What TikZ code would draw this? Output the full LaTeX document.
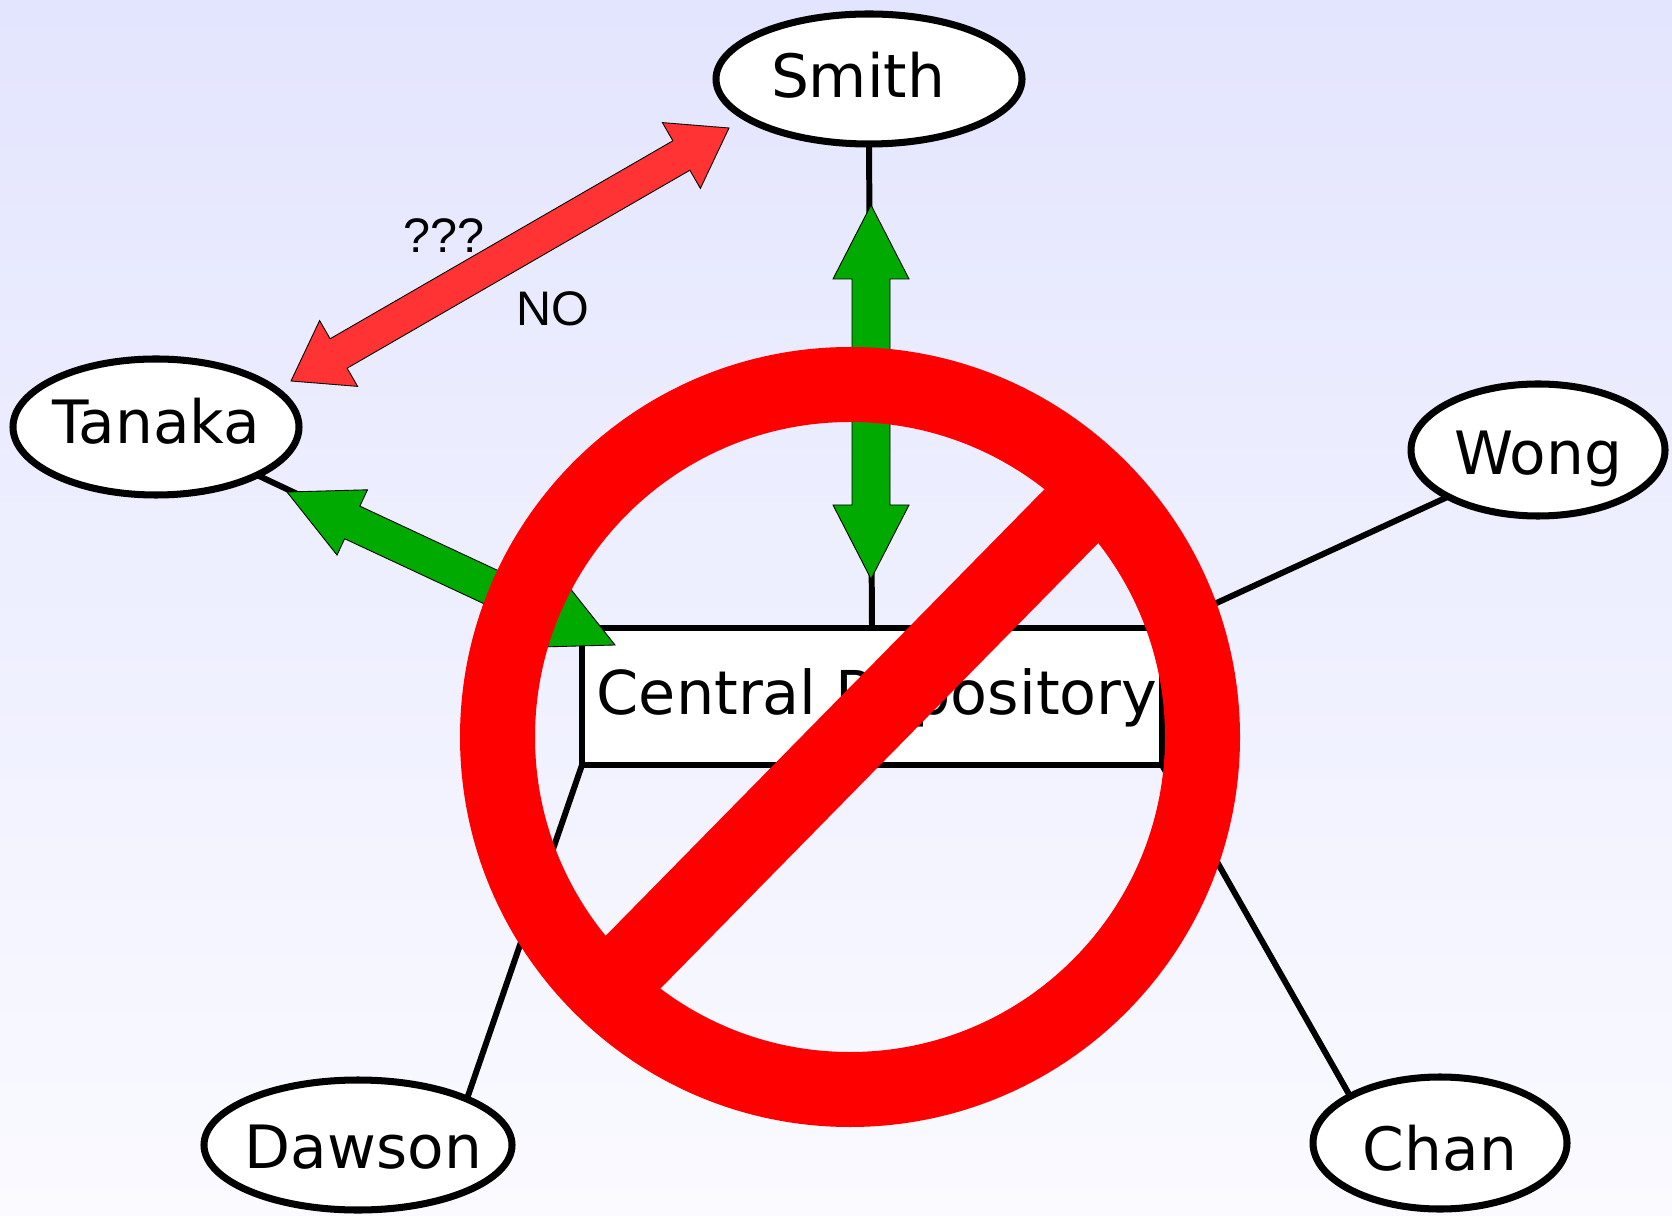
\documentclass[tikz,border=0pt]{standalone}
\usepackage{fontspec}
\setmainfont{DejaVu Sans}
\newfontfamily\notefont{Liberation Sans}
\usetikzlibrary{
		calc,
		shapes.geometric
	}
\definecolor{linkgreen}{HTML}{00AA00}
\definecolor{linkred}{HTML}{FF3333}
\tikzset{
		person/.style={ellipse, draw=black, fill=white, line width=2pt, inner sep=0pt, outer sep=0pt, text height=0pt, text depth=0pt, font=\fontsize{17}{20}\selectfont},
		store/.style={rectangle, draw=black, fill=white, line width=1.8pt, inner sep=0pt, outer sep=0pt, font=\fontsize{17.2}{20}\selectfont},
		wire/.style={draw=black, line width=1.7pt},
		note/.style={anchor=base, font=\notefont\fontsize{13.8}{16}\selectfont},
		greenlink/.style={fill=linkgreen, draw=black, line width=0.25pt},
		redlink/.style={fill=linkred, draw=black, line width=0.25pt}
	}
% text sitting off the middle of its node
\newcommand{\offtext}[3]{\raisebox{#2}[0pt][0pt]{\makebox[0pt]{\hspace*{#1}#3}}}
% double headed block arrow between two tips: style, tip, tip, head length, head half width, shaft half width
\newcommand{\blockarrow}[6]{
	\draw[#1] (#2)
		-- ($(#2)!#4!(#3)!#5!90:(#3)$) -- ($(#2)!#4!(#3)!#6!90:(#3)$)
		-- ($(#3)!#4!(#2)!#6!-90:(#2)$) -- ($(#3)!#4!(#2)!#5!-90:(#2)$)
		-- (#3)
		-- ($(#3)!#4!(#2)!#5!90:(#2)$) -- ($(#3)!#4!(#2)!#6!90:(#2)$)
		-- ($(#2)!#4!(#3)!#6!-90:(#3)$) -- ($(#2)!#4!(#3)!#5!-90:(#3)$)
		-- cycle;
}
\begin{document}
\begin{tikzpicture}
              \useasboundingbox (0,0) rectangle (16.72,12.15);

              % the background
              \shade[top color={rgb,255:red,227;green,229;blue,254}, bottom color={rgb,255:red,250;green,250;blue,255}] (0,0) rectangle (16.72,12.15);

              % the repository and the people
              \node[store, minimum width=5.80cm, minimum height=1.37cm, text height=0pt, text depth=0pt] (repo) at (8.72,5.185) {\offtext{0.10cm}{-0.18cm}{Central Repository}};
              \node[person, minimum width=3.06cm, minimum height=1.30cm] (smith) at (8.69,11.36) {\offtext{-0.22cm}{-0.19cm}{Smith}};
              \node[person, minimum width=2.86cm, minimum height=1.36cm] (tanaka) at (1.56,7.88) {\offtext{0cm}{-0.17cm}{Tanaka}};
              \node[person, minimum width=2.54cm, minimum height=1.32cm] (wong) at (15.38,7.65) {\offtext{0cm}{-0.25cm}{Wong}};
              \node[person, minimum width=3.08cm, minimum height=1.30cm] (dawson) at (3.58,0.70) {\offtext{0.11cm}{-0.23cm}{Dawson}};
              \node[person, minimum width=2.54cm, minimum height=1.32cm] (chan) at (14.40,0.72) {\offtext{0cm}{-0.27cm}{Chan}};

              % draw the lines to the repository
              \draw[wire] (smith.south) -- (repo.north);
              \draw[wire] (tanaka.south east) -- (repo.north west);
              \draw[wire] (wong.south west) -- (repo.north east);
              \draw[wire] (dawson.north east) -- (repo.south west);
              \draw[wire] (chan.north west) -- (repo.south east);

              % the ends of the block arrows
              \coordinate (redleft) at (2.91,8.34);
              \coordinate (redright) at (7.29,10.87);
              \coordinate (greentop) at (8.71,10.10);
              \coordinate (greenbottom) at (8.71,6.36);
              \coordinate (greenleft) at (2.87,7.23);
              \coordinate (greenright) at (6.15,5.70);

              % draw the block arrows
              \blockarrow{redlink}{redleft}{redright}{0.55cm}{0.38cm}{0.17cm}
              \blockarrow{greenlink}{greentop}{greenbottom}{0.74cm}{0.38cm}{0.19cm}
              \blockarrow{greenlink}{greenleft}{greenright}{0.72cm}{0.36cm}{0.18cm}

              % the texts
              \node[note] (query) at (4.44,9.62) {???};
              \node[note] (refusal) at (5.53,8.89) {NO};

              % draw the forbidden sign
              \node[circle, draw=red, line width=0.75cm, inner sep=0pt, outer sep=0pt, minimum size=7.05cm] (sign) at (8.50,4.78) {};
              \draw[draw=red, line width=0.76cm] (sign.45) -- (sign.226);

          \end{tikzpicture}
\end{document}
